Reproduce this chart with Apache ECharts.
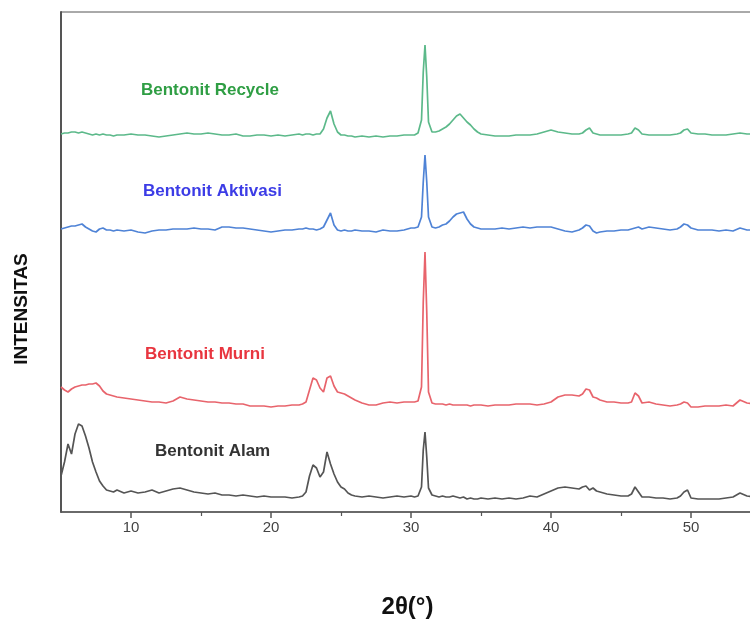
<!DOCTYPE html>
<html>
<head>
<meta charset="utf-8">
<script src="https://cdn.jsdelivr.net/npm/echarts@6/dist/echarts.min.js"></script>
<style>html,body{margin:0;padding:0;background:#fff}#c{width:750px;height:619px}</style>
</head>
<body>
<div id="c"></div>
<script>
// 2θ sampling angles (degrees)
var angles = [
  5, 5.25, 5.5, 5.75, 6, 6.25, 6.5, 6.75, 7, 7.25, 7.5, 7.75, 8, 8.25, 8.5, 8.75, 9,
  9.5, 10, 10.5, 11, 11.5, 12, 12.5, 13, 13.5, 14, 14.5, 15, 15.5, 16, 16.5, 17, 17.5, 18, 18.5, 19, 19.5, 20, 20.5, 21, 21.5, 22,
  22.25, 22.5, 22.75, 23, 23.25, 23.5, 23.75, 24, 24.25, 24.5, 24.75, 25, 25.25, 25.5, 25.75, 26,
  26.5, 27, 27.5, 28, 28.5, 29, 29.5, 30,
  30.25, 30.5, 30.75, 30.875, 31, 31.125, 31.25, 31.5, 31.75, 32, 32.25, 32.5, 32.75, 33, 33.25, 33.5, 33.75, 34, 34.25, 34.5, 34.75, 35,
  35.5, 36, 36.5, 37, 37.5, 38, 38.5, 39, 39.5, 40, 40.5, 41, 41.5, 42, 42.25, 42.5, 42.75, 43, 43.25, 43.5, 44, 44.5, 45, 45.5, 45.75, 46, 46.25, 46.5, 47, 47.5, 48, 48.5, 49, 49.25, 49.5, 49.75, 50, 50.5, 51, 51.5, 52, 52.5, 53, 53.5, 54, 54.5
];

// Intensities (arbitrary units, stacked with offsets as in the figure)
var alam = [
  36, 50, 68, 58, 78, 88, 86, 76, 64, 50, 40, 31, 26, 22, 21, 20, 22,
  19, 21, 19, 20, 22, 19, 21, 23, 24, 22, 20, 19, 18, 19, 17, 17, 16, 17, 16, 15, 16, 15, 15, 15, 14, 15,
  16, 20, 36, 47, 44, 35, 40, 60, 48, 38, 30, 25, 23, 19, 17, 16,
  15, 16, 15, 14, 15, 16, 15, 16,
  15, 16, 25, 62, 80, 55, 24, 17, 16, 15, 16, 15, 15, 16, 15, 14, 15, 13, 14, 13, 13, 14,
  13, 14, 13, 14, 13, 14, 16, 15, 18, 21, 24, 25, 24, 23, 25, 26, 22, 24, 21, 20, 18, 17, 16, 16, 18, 25, 20, 15, 15, 14, 14, 13, 14, 16, 20, 22, 14, 13, 13, 13, 13, 14, 15, 19, 16, 15
];
var murni = [
  125, 122, 120, 123, 125, 126, 127, 127, 128, 128, 129, 126, 121, 118, 117, 116, 115,
  114, 113, 112, 111, 110, 110, 109, 111, 115, 113, 112, 111, 110, 110, 109, 109, 108, 108, 106, 106, 106, 105, 106, 106, 107, 107,
  108, 110, 122, 134, 132, 124, 120, 134, 136, 126, 120, 119, 118, 116, 114, 112,
  109, 107, 107, 109, 110, 109, 110, 110,
  110, 111, 125, 210, 260, 200, 120, 109, 108, 108, 108, 107, 108, 107, 107, 107, 107, 107, 106, 107, 107, 107,
  106, 107, 107, 107, 108, 108, 108, 107, 108, 110, 115, 117, 117, 116, 118, 123, 122, 115, 114, 112, 110, 110, 109, 109, 110, 119, 116, 109, 110, 108, 107, 106, 107, 108, 110, 109, 105, 105, 106, 106, 106, 107, 106, 112, 109, 108
];
var aktivasi = [
  283, 284, 285, 286, 286, 287, 288, 285, 283, 281, 280, 283, 284, 282, 282, 281, 282,
  281, 282, 280, 279, 281, 282, 282, 283, 283, 283, 284, 283, 283, 282, 285, 285, 284, 284, 283, 282, 281, 280, 281, 282, 282, 283,
  283, 284, 283, 283, 282, 283, 285, 292, 299, 287, 282, 281, 282, 281, 281, 282,
  281, 281, 280, 282, 281, 281, 282, 284,
  284, 285, 295, 330, 357, 330, 295, 285, 284, 285, 287, 288, 291, 295, 298, 299, 300, 293, 288, 285, 284, 283,
  283, 283, 284, 283, 284, 285, 284, 285, 285, 285, 283, 281, 280, 282, 284, 287, 286, 281, 279, 280, 281, 281, 282, 282, 283, 284, 285, 283, 285, 284, 283, 282, 283, 285, 288, 287, 284, 282, 282, 282, 281, 282, 281, 284, 282, 282
];
var recycle = [
  378, 379, 379, 380, 380, 379, 380, 379, 378, 377, 378, 377, 378, 377, 377, 376, 377,
  377, 378, 377, 377, 376, 375, 376, 377, 378, 379, 378, 378, 379, 378, 377, 377, 378, 376, 376, 377, 377, 376, 377, 376, 377, 378,
  377, 378, 378, 377, 378, 378, 383, 394, 401, 388, 380, 377, 377, 376, 376, 375,
  376, 375, 376, 375, 376, 376, 377, 377,
  377, 379, 392, 440, 467, 435, 390, 380, 380, 381, 383, 385, 388, 392, 396, 398, 394, 390, 387, 383, 380, 378,
  377, 376, 376, 376, 377, 377, 377, 378, 380, 382, 380, 379, 378, 378, 379, 382, 384, 379, 378, 377, 377, 377, 377, 378, 379, 384, 382, 378, 377, 377, 377, 377, 378, 379, 382, 383, 379, 378, 378, 377, 377, 377, 378, 379, 378, 378
];

var seriesNames = ['Bentonit Alam', 'Bentonit Murni', 'Bentonit Aktivasi', 'Bentonit Recycle'];
var xTicks = [10, 20, 30, 40, 50];
var xMinorTicks = [15, 25, 35, 45];

function pairs(vals) {
  return angles.map(function (a, i) { return [a, vals[i]]; });
}

var chart = echarts.init(document.getElementById('c'), null, {renderer: 'canvas'});
var lineColors = ['#555555', '#e8646c', '#4f83d6', '#5cb98a'];
var textColors = ['#333333', '#e8353f', '#3c3ce6', '#2f9e44'];
var allVals = [alam, murni, aktivasi, recycle];
var FONT = '"Liberation Sans", Arial, sans-serif';

var series = allVals.map(function (v, i) {
  return {
    name: seriesNames[i],
    type: 'line',
    data: pairs(v),
    showSymbol: false,
    smooth: false,
    clip: true,
    lineStyle: {color: lineColors[i], width: 1.7},
    animation: false
  };
});

chart.setOption({
  backgroundColor: '#ffffff',
  animation: false,
  grid: {left: 61, top: 12, right: -4, bottom: 107, show: true, borderColor: '#555', borderWidth: 1,
         containLabel: false, outerBoundsMode: 'none'},
  xAxis: [{
    type: 'value', min: 5, max: 54.5,
    axisLine: {show: true, lineStyle: {color: '#555', width: 1.5}},
    axisTick: {show: true, customValues: xTicks, length: 6, lineStyle: {color: '#555', width: 1.5}},
    axisLabel: {show: true, customValues: xTicks, color: '#444', fontSize: 15, fontFamily: FONT, margin: 8},
    splitLine: {show: false},
    name: '2θ(°)', nameLocation: 'middle', nameGap: 83,
    nameTextStyle: {fontSize: 24, fontWeight: 'bold', color: '#111', fontFamily: FONT}
  }, {
    type: 'value', min: 5, max: 54.5, position: 'bottom',
    axisLine: {show: false},
    axisTick: {show: true, customValues: xMinorTicks, length: 4, lineStyle: {color: '#555', width: 1.2}},
    axisLabel: {show: false},
    splitLine: {show: false}
  }],
  yAxis: {
    type: 'value', min: 0, max: 500,
    axisLine: {show: true, lineStyle: {color: '#555', width: 2}},
    axisTick: {show: false}, axisLabel: {show: false}, splitLine: {show: false}
  },
  series: series,
  graphic: [
    {type: 'text', left: 141, top: 82, style: {text: seriesNames[3], fill: textColors[3], font: 'bold 17px ' + FONT}},
    {type: 'text', left: 143, top: 183, style: {text: seriesNames[2], fill: textColors[2], font: 'bold 17px ' + FONT}},
    {type: 'text', left: 145, top: 346, style: {text: seriesNames[1], fill: textColors[1], font: 'bold 17px ' + FONT}},
    {type: 'text', left: 155, top: 443, style: {text: seriesNames[0], fill: textColors[0], font: 'bold 17px ' + FONT}},
    {type: 'text', x: 22, y: 309, rotation: Math.PI / 2, style: {text: 'INTENSITAS', fill: '#111', align: 'center', verticalAlign: 'middle', font: 'bold 19px ' + FONT}}
  ]
});
</script>
</body>
</html>
